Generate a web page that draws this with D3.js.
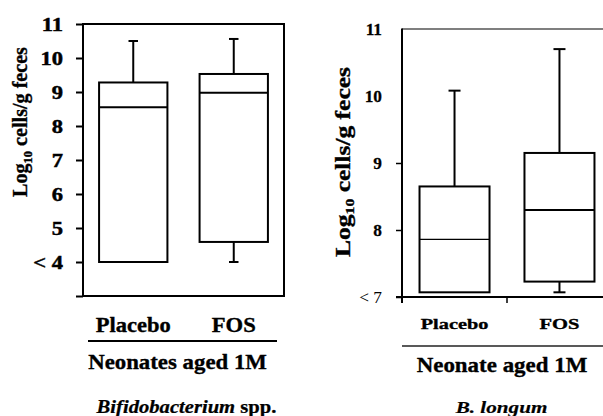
<!DOCTYPE html>
<html>
<head>
<meta charset="utf-8">
<script src="https://cdn.jsdelivr.net/npm/d3@7"></script>
<style>
  body { margin: 0; background: #fff; }
  svg { display: block; }
  text { font-family: "Liberation Serif", "DejaVu Serif", serif; }
</style>
</head>
<body>
<svg id="chart" width="603" height="416"></svg>
<script>
// ---- Data ----
const groups = ["Placebo", "FOS"];
// box stats per group: [min, q1, median, q3, max]  (log10 cells/g feces)
const bifidoStats = [[4.0, 4.0, 8.55, 9.28, 10.5], [4.0, 4.59, 8.98, 9.53, 10.56]];
const longumStats = [[7.07, 7.07, 7.86, 8.65, 10.08], [7.07, 7.23, 8.30, 9.15, 10.70]];
const bifidoTicks = [3, 4, 5, 6, 7, 8, 9, 10, 11];
const bifidoTickLabels = ["", "< 4", "5", "6", "7", "8", "9", "10", "11"];
const longumTicks = [7, 8, 9, 10, 11];
const longumTickLabels = ["< 7", "8", "9", "10", "11"];

const SERIF = "Liberation Serif";
const svg = d3.select("#chart");

// text helper: draws at (0,0), then stretches horizontally to a target width
function label(parent, o) {
  const t = parent.append("text")
    .attr("font-family", SERIF)
    .attr("text-anchor", o.anchor || "middle")
    .attr("font-size", o.size)
    .attr("font-weight", o.weight || "bold")
    .attr("fill", "#000")
    .attr("stroke", "#000")
    .attr("stroke-width", o.heavy == null ? 0.35 : o.heavy);
  (o.parts || [{ text: o.text }]).forEach(p => {
    const s = t.append("tspan").text(p.text);
    if (p.italic) s.attr("font-style", "italic");
    if (p.sub) s.attr("font-size", o.size * 0.62).attr("dy", o.size * 0.22);
    if (p.unsub) s.attr("dy", -o.size * 0.22);
  });
  const w = t.node().getBBox().width;
  const k = o.width ? o.width / w : 1;
  t.attr("transform", `translate(${o.x},${o.y})${o.rotate ? " rotate(-90)" : ""} scale(${k},1)`);
  return t;
}

function drawBoxes(g, x, y, stats, o) {
  const bw = x.bandwidth();
  groups.forEach((name, i) => {
    const [mn, q1, md, q3, mx] = stats[i];
    const cx = x(name) + bw / 2;
    const b = g.append("g").attr("stroke", "#000").attr("fill", "none");
    // whiskers
    if (mx > q3) {
      b.append("line").attr("x1", cx).attr("x2", cx).attr("y1", y(q3)).attr("y2", y(mx)).attr("stroke-width", 2);
      b.append("line").attr("x1", cx - o.cap / 2).attr("x2", cx + o.cap / 2).attr("y1", y(mx)).attr("y2", y(mx)).attr("stroke-width", 2);
    }
    if (mn < q1) {
      b.append("line").attr("x1", cx).attr("x2", cx).attr("y1", y(q1)).attr("y2", y(mn)).attr("stroke-width", 2);
      b.append("line").attr("x1", cx - o.cap / 2).attr("x2", cx + o.cap / 2).attr("y1", y(mn)).attr("y2", y(mn)).attr("stroke-width", 2);
    }
    b.append("rect")
      .attr("x", x(name)).attr("y", y(q3))
      .attr("width", bw).attr("height", y(q1) - y(q3))
      .attr("fill", "#fff").attr("stroke-width", 2);
    b.append("line")
      .attr("x1", x(name)).attr("x2", x(name) + bw)
      .attr("y1", y(md)).attr("y2", y(md))
      .attr("stroke-width", o.medianWidth[i]);
  });
}

function styleTicks(ax, size, weightFn, sx, heavy) {
  ax.attr("font-family", SERIF).attr("font-size", size);
  ax.selectAll(".tick text")
    .attr("x", 0).attr("dy", "0.34em")
    .attr("transform", `translate(-20,0) scale(${sx},1)`)
    .attr("fill", "#000")
    .attr("stroke", "#000")
    .attr("stroke-width", d => weightFn(d) === "bold" ? heavy : 0)
    .attr("font-family", SERIF)
    .attr("font-size", size)
    .attr("font-weight", weightFn);
}

// ---- Left panel: Bifidobacterium spp. ----
{
  const g = svg.append("g");
  const y = d3.scaleLinear().domain([3, 11]).range([296, 24]);
  const x = d3.scaleBand().domain(groups).range([83, 284]).paddingInner(0.32).paddingOuter(0.16);

  const ax = g.append("g")
    .attr("transform", "translate(83,0)")
    .call(d3.axisLeft(y).tickValues(bifidoTicks).tickSize(7)
      .tickFormat((d, i) => bifidoTickLabels[i]));
  ax.select(".domain").remove();
  ax.selectAll(".tick line").attr("stroke", "#000").attr("stroke-width", 2);
  styleTicks(ax, 18, () => "bold", 1.25, 0.45);

  g.append("rect")
    .attr("x", 83).attr("y", y(11))
    .attr("width", 284 - 83).attr("height", y(3) - y(11))
    .attr("fill", "none").attr("stroke", "#000").attr("stroke-width", 2);

  drawBoxes(g, x, y, bifidoStats, { cap: 9.5, medianWidth: [2, 2] });

  label(g, { x: 27, y: 122, rotate: true, size: 21, width: 150,
    parts: [{ text: "Log" }, { text: "10", sub: true }, { text: " cells/g feces", unsub: true }] });

  const widths = [75, 44];
  groups.forEach((name, i) => {
    label(g, { x: x(name) + x.bandwidth() / 2, y: 331.5, size: 21, width: widths[i], text: name });
  });
  g.append("line").attr("x1", 88).attr("x2", 277).attr("y1", 341).attr("y2", 341)
    .attr("stroke", "#000").attr("stroke-width", 2.2);
  label(g, { x: 177.5, y: 369, size: 22, width: 179, text: "Neonates aged 1M" });
  label(g, { x: 186.5, y: 413, size: 18, width: 181, heavy: 0.25,
    parts: [{ text: "Bifidobacterium", italic: true }, { text: " spp." }] });
}

// ---- Right panel: B. longum ----
{
  const g = svg.append("g");
  const y = d3.scaleLinear().domain([7, 11]).range([297, 29]);
  const x = d3.scaleBand().domain(groups).range([402, 612]).paddingInner(0.333).paddingOuter(0.167);

  const ax = g.append("g")
    .attr("transform", "translate(402,0)")
    .call(d3.axisLeft(y).tickValues(longumTicks).tickSize(6)
      .tickFormat((d, i) => longumTickLabels[i]));
  ax.select(".domain").remove();
  ax.selectAll(".tick line").attr("stroke", "#000").attr("stroke-width", 1.5)
    .attr("display", d => d >= 10 ? "none" : null);
  styleTicks(ax, 16.5, d => d === 7 ? "normal" : "bold", 1.05, 0.25);

  // frame: top (thin), left and bottom axes
  g.append("line").attr("x1", 402).attr("x2", 612).attr("y1", y(11)).attr("y2", y(11))
    .attr("stroke", "#555").attr("stroke-width", 1.3);
  g.append("line").attr("x1", 402).attr("x2", 402).attr("y1", y(11) - 0.5).attr("y2", y(7) + 6)
    .attr("stroke", "#000").attr("stroke-width", 2);
  g.append("line").attr("x1", 396).attr("x2", 612).attr("y1", y(7)).attr("y2", y(7))
    .attr("stroke", "#000").attr("stroke-width", 2);
  const bounds = groups.map(n => x(n) - x.step() * x.paddingInner() / 2);
  bounds.push(bounds[bounds.length - 1] + x.step());
  g.selectAll(".xtick").data(bounds.slice(1)).join("line")
    .attr("x1", d => d).attr("x2", d => d).attr("y1", y(7)).attr("y2", y(7) + 6)
    .attr("stroke", "#000").attr("stroke-width", 1.5);

  drawBoxes(g, x, y, longumStats, { cap: 12, medianWidth: [1.2, 2] });

  label(g, { x: 349.5, y: 162, rotate: true, size: 21, width: 190,
    parts: [{ text: "Log" }, { text: "10", sub: true }, { text: " cells/g feces", unsub: true }] });

  const widths = [68, 40];
  groups.forEach((name, i) => {
    label(g, { x: x(name) + x.bandwidth() / 2, y: 329, size: 15.5, width: widths[i], text: name });
  });
  g.append("line").attr("x1", 402).attr("x2", 612).attr("y1", 346).attr("y2", 346)
    .attr("stroke", "#222").attr("stroke-width", 1.4);
  label(g, { x: 502, y: 372, size: 22, width: 171, text: "Neonate aged 1M" });
  label(g, { x: 501.5, y: 413, size: 17.5, width: 93, heavy: 0.2,
    parts: [{ text: "B. longum", italic: true }] });
}
</script>
</body>
</html>
